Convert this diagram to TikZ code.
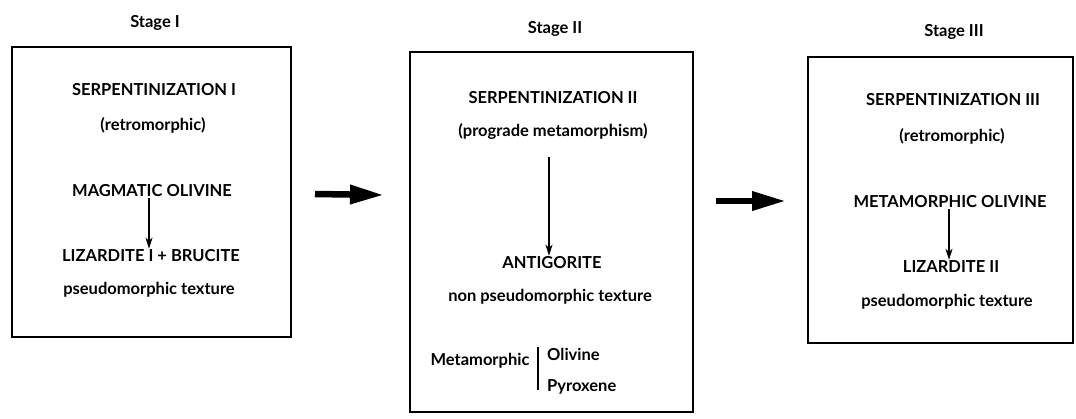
\documentclass[tikz,border=0pt]{standalone}
\usepackage{fontspec}
\setmainfont{Lato}
\usetikzlibrary{arrows.meta}

\tikzset{
  lbl/.style={font=\bfseries\fontsize{16.5}{19}\selectfont, inner sep=1pt},
  stagebox/.style={draw, line width=1.5pt, inner sep=0pt},
  flow/.style={-{Stealth[length=11pt,width=7pt,inset=3pt]}, line width=1.3pt},
  bigflow/.style={-{Triangle[length=34pt,width=18pt]}, line width=6.5pt}
}

\begin{document}
\begin{tikzpicture}[x=1pt, y=-1pt]
  \useasboundingbox (0,0) rectangle (1076,418);

  % the three boxes
  \node[stagebox, minimum width=279pt, minimum height=290pt] (box1) at (151.5,192) {};
  \node[stagebox, minimum width=283pt, minimum height=360pt] (box2) at (551.5,232) {};
  \node[stagebox, minimum width=265pt, minimum height=286pt] (box3) at (940.5,200) {};

  \node[lbl] (st1) at (155,23) {Stage I};
  \node[lbl] (st2) at (555,29) {Stage II};
  \node[lbl] (st3) at (954,32) {Stage III};

  % stage I
  \node[lbl] (ser1) at (154,90) {SERPENTINIZATION I};
  \node[lbl] (ret1) at (153,125) {(retromorphic)};
  \node[lbl] (mag) at (152,191) {MAGMATIC OLIVINE};
  \node[lbl] (liz1) at (151,256) {LIZARDITE I + BRUCITE};
  \node[lbl] (pse1) at (149,290) {pseudomorphic texture};
  \draw[flow] ([xshift=-3pt]mag.south) -- ([xshift=-2pt]liz1.north);

  % stage II
  \node[lbl] (ser2) at (553,98) {SERPENTINIZATION II};
  \node[lbl] (prog) at (553,132) {(prograde metamorphism)};
  \node[lbl] (anti) at (552,263) {ANTIGORITE};
  \node[lbl] (pse2) at (550,297) {non pseudomorphic texture};
  \draw[flow] ([xshift=-4pt,yshift=-16pt]prog.south) -- ([xshift=-3pt]anti.north);
  \node[lbl] (meta) at (480,361) {Metamorphic};
  \node[lbl, anchor=west] (oli) at (546,354) {Olivine};
  \node[lbl, anchor=west] (pyr) at (546,387) {Pyroxene};
  \draw[line width=1.3pt] (538,347) -- (538,390);

  % stage III
  \node[lbl] (ser3) at (953,100) {SERPENTINIZATION III};
  \node[lbl] (ret3) at (952,136) {(retromorphic)};
  \node[lbl] (molv) at (950,202) {METAMORPHIC OLIVINE};
  \node[lbl] (liz2) at (951,267) {LIZARDITE II};
  \node[lbl] (pse3) at (947,302) {pseudomorphic texture};
  \draw[flow] ([xshift=-1pt]molv.south) -- ([xshift=-2pt]liz2.north);

  % arrows between the stages
  \coordinate (a1) at (315,194);
  \coordinate (b1) at (384,195);
  \coordinate (a2) at (716,201);
  \coordinate (b2) at (786,201);
  \draw[bigflow] (a1) -- (b1);
  \draw[bigflow] (a2) -- (b2);
\end{tikzpicture}
\end{document}
